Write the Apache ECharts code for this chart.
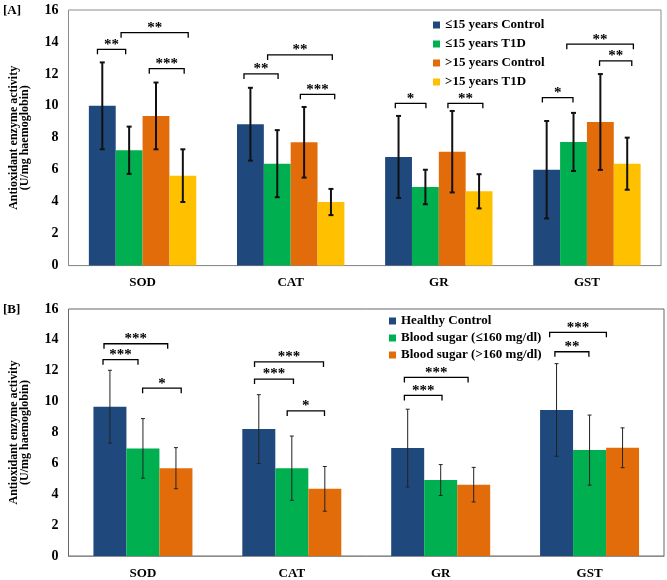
<!DOCTYPE html>
<html><head><meta charset="utf-8">
<script src="https://cdn.jsdelivr.net/npm/echarts@6/dist/echarts.min.js"></script>
<style>html,body{margin:0;padding:0;background:#fff}#c{width:667px;height:580px}</style>
</head><body><div id="c"></div>
<script>
const categories = ['SOD', 'CAT', 'GR', 'GST'];
const yTicks = [0, 2, 4, 6, 8, 10, 12, 14, 16];

// Panel A
const namesA = ['≤15 years Control', '≤15 years T1D', '>15 years Control', '>15 years T1D'];
const ctrlUnder15 = [10.0, 8.85, 6.80, 6.00];
const ctrlUnder15Sd = [2.72, 2.28, 2.57, 3.05];
const t1dUnder15 = [7.22, 6.38, 4.92, 7.74];
const t1dUnder15Sd = [1.48, 2.10, 1.08, 1.82];
const ctrlOver15 = [9.37, 7.72, 7.13, 8.99];
const ctrlOver15Sd = [2.09, 2.21, 2.55, 3.00];
const t1dOver15 = [5.63, 3.98, 4.65, 6.38];
const t1dOver15Sd = [1.65, 0.82, 1.07, 1.63];
// brackets: [category, start (bar units), end (bar units), level, label]
const bracketsA = [
  [0, 0.32, 1.37, 13.54, '**'], [0, 1.20, 3.70, 14.58, '**'], [0, 2.25, 3.55, 12.33, '***'],
  [1, 0.26, 1.53, 12.00, '**'], [1, 1.14, 3.55, 13.19, '**'], [1, 2.36, 3.64, 10.72, '***'],
  [2, 0.38, 1.52, 10.16, '*'], [2, 2.34, 3.64, 10.16, '**'],
  [3, 0.34, 1.48, 10.52, '*'], [3, 1.25, 3.73, 13.86, '**'], [3, 2.47, 3.67, 12.81, '**']
];

// Panel B
const namesB = ['Healthy Control', 'Blood sugar (≤160 mg/dl)', 'Blood sugar (>160 mg/dl)'];
const healthy = [9.67, 8.22, 6.99, 9.46];
const healthySd = [2.36, 2.23, 2.52, 3.00];
const sugarLow = [6.97, 5.69, 4.92, 6.86];
const sugarLowSd = [1.93, 2.08, 1.00, 2.27];
const sugarHigh = [5.69, 4.35, 4.62, 7.01];
const sugarHighSd = [1.33, 1.45, 1.12, 1.29];
const bracketsB = [
  [0, 0.32, 2.25, 13.75, '***'], [0, 0.29, 1.35, 12.72, '***'], [0, 1.49, 2.66, 10.87, '*'],
  [1, 0.37, 2.46, 12.57, '***'], [1, 0.37, 1.55, 11.46, '***'], [1, 1.36, 2.49, 9.40, '*'],
  [2, 0.40, 2.33, 11.57, '***'], [2, 0.40, 1.54, 10.40, '***'],
  [3, 0.29, 2.01, 14.49, '***'], [3, 0.45, 1.48, 13.23, '**']
];

const colors = ['#1F497D', '#00B050', '#E36C0A', '#FFC000'];
const FONT = '"Liberation Serif", "Times New Roman", serif';
const GAP_A = 0.275, GAP_B = 0.335;

const chart = echarts.init(document.getElementById('c'));

function xAt(api, cat, pos, n, gap) {
  const c = api.coord([cat, 0]);
  const bw = api.size([1, 0])[0];
  const gw = bw * (1 - gap);
  return c[0] - gw / 2 + pos * gw / n;
}

const seriesPos = {};
function errSeries(idx, means, sds, n, gap, color, lw, cap) {
  return {
    type: 'custom', xAxisIndex: idx, yAxisIndex: idx, z: 5, silent: true,
    data: means.map((m, i) => [i, m, sds[i]]),
    encode: { x: 0, y: 1 },
    renderItem: function (params, api) {
      const cat = api.value(0), m = api.value(1), s = api.value(2);
      const x = xAt(api, cat, seriesPos[params.seriesName] + 0.5, n, gap);
      const t = api.coord([cat, m + s])[1], b = api.coord([cat, m - s])[1];
      const st = { stroke: color, lineWidth: lw };
      return { type: 'group', children: [
        { type: 'line', shape: { x1: x, y1: t, x2: x, y2: b }, style: st },
        { type: 'line', shape: { x1: x - cap, y1: t, x2: x + cap, y2: t }, style: st },
        { type: 'line', shape: { x1: x - cap, y1: b, x2: x + cap, y2: b }, style: st }
      ]};
    }
  };
}

function bracketSeries(idx, list, n, gap) {
  return {
    type: 'custom', xAxisIndex: idx, yAxisIndex: idx, z: 6, silent: true,
    data: list.map(b => [b[0], b[3], b[1], b[2]]),
    encode: { x: 0, y: 1 },
    renderItem: function (params, api) {
      const cat = api.value(0), lev = api.value(1);
      const x1 = xAt(api, cat, api.value(2), n, gap), x2 = xAt(api, cat, api.value(3), n, gap);
      const y = api.coord([cat, lev])[1];
      const tk = 5;
      return { type: 'group', children: [
        { type: 'polyline', shape: { points: [[x1, y + tk], [x1, y], [x2, y], [x2, y + tk]] },
          style: { stroke: '#000', lineWidth: 1.3, fill: null } },
        { type: 'text', style: { text: list[params.dataIndex][4], x: (x1 + x2) / 2, y: y + 3,
          textAlign: 'center', textVerticalAlign: 'bottom', fill: '#000',
          font: 'bold 15px ' + FONT } }
      ]};
    }
  };
}

function yAxis(idx) {
  return {
    gridIndex: idx, type: 'value', min: 0, max: 16, interval: 2,
    name: 'Antioxidant enzyme activity\n(U/mg haemoglobin)', nameLocation: 'middle', nameGap: 38,
    nameTextStyle: { fontFamily: FONT, fontWeight: 'bold', fontSize: 12, color: '#000', lineHeight: 11 },
    axisLine: { show: false }, axisTick: { show: false }, splitLine: { show: false },
    axisLabel: { fontFamily: FONT, fontWeight: 'bold', fontSize: 14, color: '#000', margin: 10,
      formatter: v => yTicks.indexOf(v) >= 0 ? String(v) : '' }
  };
}
function xAxis(idx) {
  return {
    gridIndex: idx, type: 'category', data: categories,
    axisLine: { show: true, lineStyle: { color: '#8c8c8c', width: 1 } }, axisTick: { show: false },
    axisLabel: { fontFamily: FONT, fontWeight: 'bold', fontSize: 13, color: '#000', margin: 11 }
  };
}

const series = [];
const aVals = [ctrlUnder15, t1dUnder15, ctrlOver15, t1dOver15];
const aSds = [ctrlUnder15Sd, t1dUnder15Sd, ctrlOver15Sd, t1dOver15Sd];
namesA.forEach((nm, i) => {
  series.push({ type: 'bar', name: nm, xAxisIndex: 0, yAxisIndex: 0, data: aVals[i],
    itemStyle: { color: colors[i] }, barGap: '0%', barCategoryGap: (GAP_A * 100) + '%' });
});
const bVals = [healthy, sugarLow, sugarHigh];
const bSds = [healthySd, sugarLowSd, sugarHighSd];
namesB.forEach((nm, i) => {
  series.push({ type: 'bar', name: nm, xAxisIndex: 1, yAxisIndex: 1, data: bVals[i],
    itemStyle: { color: colors[i] }, barGap: '0%', barCategoryGap: (GAP_B * 100) + '%' });
});
namesA.forEach((nm, i) => {
  const s = errSeries(0, aVals[i], aSds[i], 4, GAP_A, '#111', 2, 2.5);
  s.name = 'errA' + i; seriesPos[s.name] = i; series.push(s);
});
namesB.forEach((nm, i) => {
  const s = errSeries(1, bVals[i], bSds[i], 3, GAP_B, '#222', 1, 2);
  s.name = 'errB' + i; seriesPos[s.name] = i; series.push(s);
});
series.push(bracketSeries(0, bracketsA, 4, GAP_A));
series.push(bracketSeries(1, bracketsB, 3, GAP_B));

chart.setOption({
  animation: false,
  backgroundColor: '#fff',
  grid: [
    { left: 57, right: 6, top: 10, height: 255.6, show: true, borderColor: '#8c8c8c', borderWidth: 1 },
    { left: 56, right: 3, top: 309, height: 250.3, show: true, borderColor: '#666', borderWidth: 1 }
  ],
  xAxis: [xAxis(0), xAxis(1)],
  yAxis: [yAxis(0), yAxis(1)],
  legend: [
    { data: namesA, orient: 'vertical', left: 428, top: 13, itemWidth: 7, itemHeight: 7, itemGap: 5,
      icon: 'rect', textStyle: { fontFamily: FONT, fontWeight: 'bold', fontSize: 13, color: '#000', lineHeight: 14 } },
    { data: namesB, orient: 'vertical', left: 384, top: 309, itemWidth: 7, itemHeight: 7, itemGap: 3,
      icon: 'rect', textStyle: { fontFamily: FONT, fontWeight: 'bold', fontSize: 13, color: '#000', lineHeight: 14 } }
  ],
  graphic: [
    { type: 'text', left: 3, top: 4, style: { text: '[A]', font: 'bold 13px ' + FONT, fill: '#000' } },
    { type: 'text', left: 3, top: 303, style: { text: '[B]', font: 'bold 13px ' + FONT, fill: '#000' } }
  ],
  series: series
});
</script></body></html>
